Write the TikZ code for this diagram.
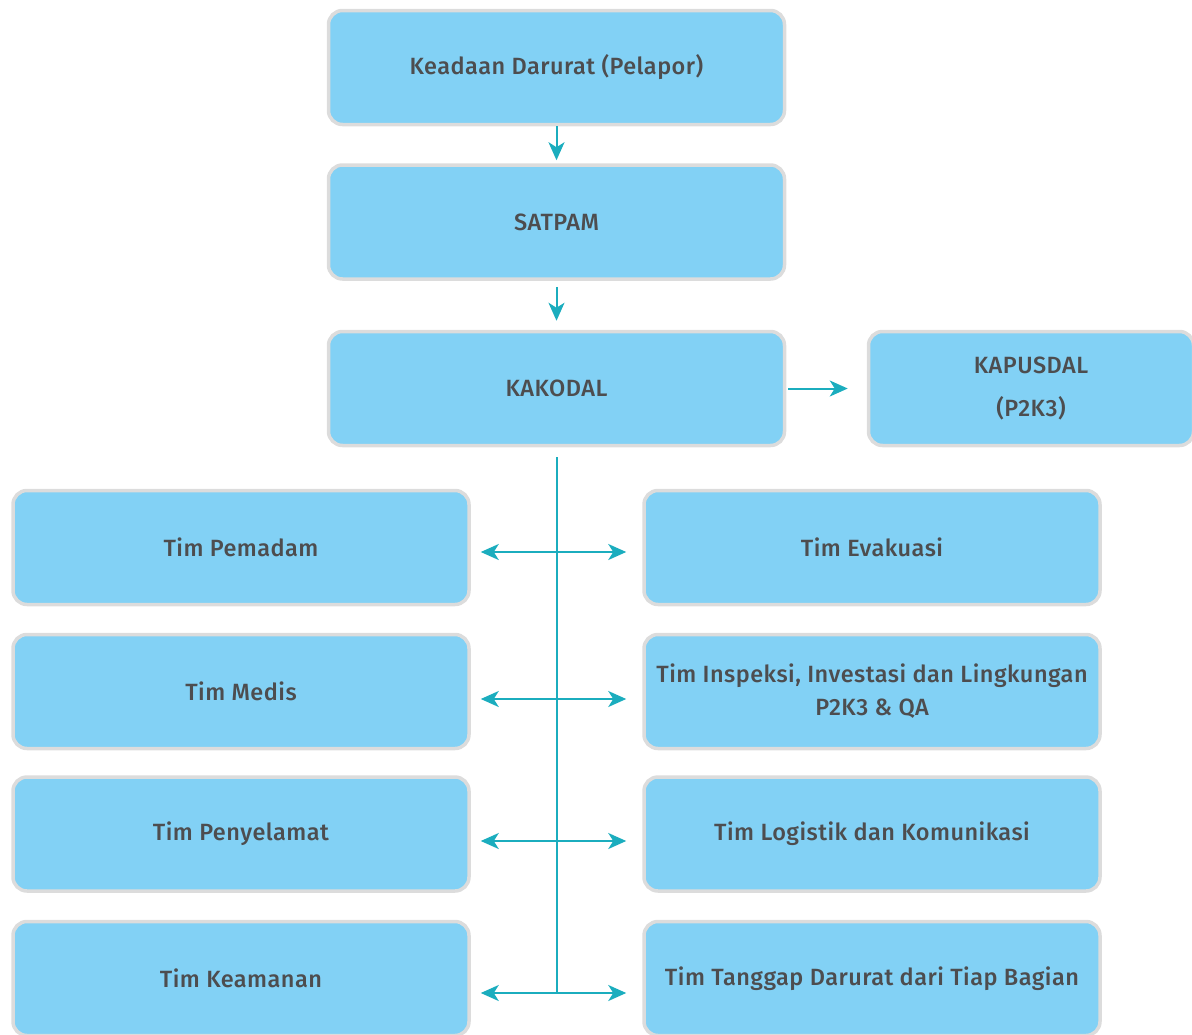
\documentclass[tikz,border=0pt]{standalone}
\usepackage{fontspec}
\setmainfont{Fira Sans}[UprightFont=* Medium, LetterSpace=2]
\usetikzlibrary{arrows.meta}
\definecolor{boxfill}{RGB}{130,209,245}
\definecolor{boxborder}{RGB}{220,220,220}
\definecolor{linkc}{RGB}{27,173,190}
\definecolor{txt}{RGB}{77,77,79}
\tikzset{
  box/.style={draw=boxborder, line width=3.5pt, fill=boxfill, rounded corners=14pt,
    minimum width=456pt, minimum height=114pt, text=txt, align=center,
    font=\fontsize{23.5}{33}\selectfont, inner sep=0pt},
  conn/.style={draw=linkc, line width=2pt, -{Stealth[length=18pt,width=16pt,inset=5pt]}},
  trunk/.style={draw=linkc, line width=2pt},
}
\begin{document}
\begin{tikzpicture}[x=1pt,y=-1pt]
\useasboundingbox (0,0) rectangle (1192,1034);
\clip (0,0) rectangle (1192,1034);
\node[box] (lapor) at (556.5,67.5) {Keadaan Darurat (Pelapor)};
\node[box] (satpam) at (556.5,222) {SATPAM};
\node[box] (kakodal) at (556.5,388.5) {KAKODAL};
\node[box, minimum width=325pt, font=\fontsize{23.5}{43}\selectfont] (kapusdal) at (1031,388.5) {KAPUSDAL\\(P2K3)};
\node[box] (pemadam) at (241,547.5) {Tim Pemadam};
\node[box] (medis) at (241,691.5) {Tim Medis};
\node[box] (penyelamat) at (241,834) {Tim Penyelamat};
\node[box] (keamanan) at (241,978.5) {Tim Keamanan};
\node[box] (evakuasi) at (872,547.5) {Tim Evakuasi};
\node[box] (inspeksi) at (872,691.5) {Tim Inspeksi, Investasi dan Lingkungan\\P2K3 \& QA};
\node[box] (logistik) at (872,834) {Tim Logistik dan Komunikasi};
\node[box] (tanggap) at (872,978.5) {Tim Tanggap Darurat dari Tiap Bagian};
\draw[conn, shorten >=3pt] (lapor.south) -- (satpam.north);
\draw[conn, shorten <=6pt, shorten >=9pt] (satpam.south) -- (kakodal.north);
\draw[conn, shorten <=2pt, shorten >=19pt] (kakodal.east) -- (kakodal.east-|kapusdal.west);
\coordinate (j1) at (556.5,552);
\coordinate (j2) at (556.5,699);
\coordinate (j3) at (556.5,841);
\coordinate (j4) at (556.5,993);
\draw[trunk, shorten <=10pt] (kakodal.south) -- (j4);
\foreach \j/\l/\r in {j1/pemadam/evakuasi, j2/medis/inspeksi, j3/penyelamat/logistik, j4/keamanan/tanggap}{
  \draw[conn, shorten >=10pt] (\j) -- (\j-|\l.east);
  \draw[conn, shorten >=16pt] (\j) -- (\j-|\r.west);
}
\end{tikzpicture}
\end{document}
